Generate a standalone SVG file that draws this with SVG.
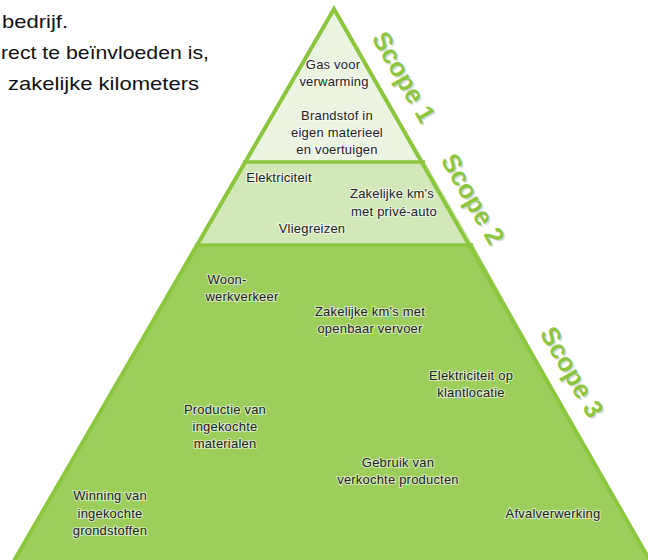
<svg xmlns="http://www.w3.org/2000/svg" width="648" height="560" viewBox="0 0 648 560">
<defs>
<style>
.para{font-family:"Liberation Sans",Arial,sans-serif;font-size:19px;fill:#111}
.lbl{font-family:"Liberation Sans",Arial,sans-serif;font-size:13px;fill:#222222;text-anchor:middle;stroke:#ffffff;stroke-width:2.2px;stroke-opacity:0.55;paint-order:stroke;letter-spacing:0.2px}
.scope{font-family:"Liberation Sans",Arial,sans-serif;font-size:26px;font-weight:bold;fill:#8cc63f;text-anchor:middle;dominant-baseline:central}
.shadow{fill:#bdbdbd;opacity:0.5}
.sep{stroke:#8cc63f;stroke-width:3.5;fill:none}
</style>
</defs>
<rect width="648" height="560" fill="#ffffff"/>
<g id="intro-text">
<text class="para" x="2" y="28" textLength="66" lengthAdjust="spacingAndGlyphs">bedrijf.</text>
<text class="para" x="1" y="59" textLength="208" lengthAdjust="spacingAndGlyphs">rect te beïnvloeden is,</text>
<text class="para" x="8" y="90" textLength="191" lengthAdjust="spacingAndGlyphs">zakelijke kilometers</text>
</g>
<g id="scope3-band">
<polygon points="195,245 473,245 653,566 11,566" fill="#9dce5c"/>
</g>
<g id="scope2-band">
<polygon points="243,162 425,162 473,245 195,245" fill="#d3e8b9"/>
</g>
<g id="scope1-band">
<polygon points="334,9 425,162 243,162" fill="#ebf4e1"/>
</g>
<g id="connectors">
<polygon points="334,9 653,566 11,566" fill="none" stroke="#8cc63f" stroke-width="4" stroke-linejoin="miter"/>
<line class="sep" x1="243" y1="162" x2="425" y2="162"/>
<line class="sep" x1="195" y1="245" x2="473" y2="245"/>
</g>
<g id="scope1-labels">
<text class="lbl" x="333" y="69">Gas voor</text>
<text class="lbl" x="334" y="86">verwarming</text>
<text class="lbl" x="337" y="120">Brandstof in</text>
<text class="lbl" x="337" y="137">eigen materieel</text>
<text class="lbl" x="337" y="154">en voertuigen</text>
</g>
<g id="scope2-labels">
<text class="lbl" x="279" y="182">Elektriciteit</text>
<text class="lbl" x="392" y="198">Zakelijke km's</text>
<text class="lbl" x="394" y="216">met privé-auto</text>
<text class="lbl" x="312" y="233">Vliegreizen</text>
</g>
<g id="scope3-labels">
<text class="lbl" x="227" y="284">Woon-</text>
<text class="lbl" x="242" y="301">werkverkeer</text>
<text class="lbl" x="370" y="316">Zakelijke km's met</text>
<text class="lbl" x="370" y="333">openbaar vervoer</text>
<text class="lbl" x="471" y="380">Elektriciteit op</text>
<text class="lbl" x="471" y="397">klantlocatie</text>
<text class="lbl" x="225" y="414">Productie van</text>
<text class="lbl" x="225" y="431">ingekochte</text>
<text class="lbl" x="225" y="448">materialen</text>
<text class="lbl" x="398" y="467">Gebruik van</text>
<text class="lbl" x="398" y="484">verkochte producten</text>
<text class="lbl" x="110" y="500">Winning van</text>
<text class="lbl" x="110" y="518">ingekochte</text>
<text class="lbl" x="110" y="535">grondstoffen</text>
<text class="lbl" x="553" y="518">Afvalverwerking</text>
</g>
<g id="scope-titles">
<text class="scope shadow" transform="translate(405.5,78.5) rotate(60)">Scope 1</text>
<text class="scope" transform="translate(404,77) rotate(60)">Scope 1</text>
<text class="scope shadow" transform="translate(474.5,200.5) rotate(60)">Scope 2</text>
<text class="scope" transform="translate(473,199) rotate(60)">Scope 2</text>
<text class="scope shadow" transform="translate(573.5,373.5) rotate(60)">Scope 3</text>
<text class="scope" transform="translate(572,372) rotate(60)">Scope 3</text>
</g>
</svg>
